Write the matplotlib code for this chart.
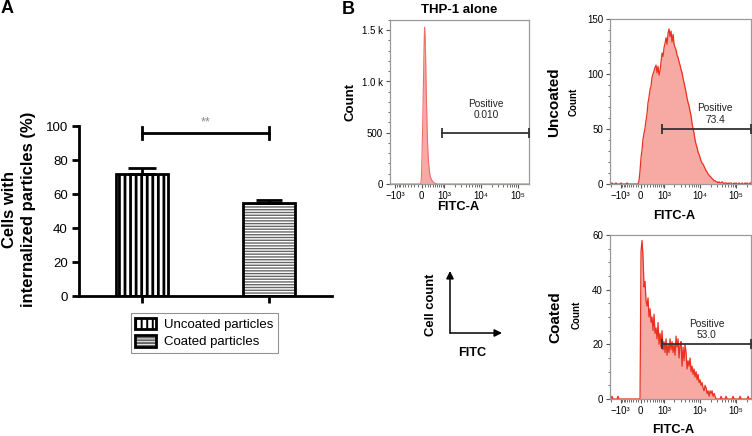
import numpy as np
import matplotlib
matplotlib.use('Agg')
import matplotlib.pyplot as plt
from matplotlib.patches import Patch, FancyArrowPatch
from matplotlib.ticker import FixedLocator, MultipleLocator

plt.rcParams['font.family'] = ['Liberation Sans', 'DejaVu Sans']
plt.rcParams['hatch.linewidth'] = 1.4

# ---------------- data ----------------
bar_categories = ['Uncoated particles', 'Coated particles']
bar_means = [72.0, 54.5]
bar_errors = [3.5, 1.7]
sig_label = '**'
sig_level = 96

fitc_tick_values = [-1000, 0, 1000, 10000, 100000]
fitc_tick_labels = ['\u221210\u00b3', '0', '10\u00b3', '10\u2074', '10\u2075']

# histograms: counts on regular grids of logicle display units (decades)
thp1_units_start = -0.032
thp1_units_step = 0.01337
thp1_counts = [0, 20, 100, 300, 520, 780, 1060, 1350, 1530, 1450, 1250, 1000, 770,
               560, 400, 290, 210, 155, 115, 85, 65, 52, 42, 34, 27, 21, 16, 12, 9,
               6, 4, 3, 2, 1, 0]

cells_units_start = -0.84
cells_units_step = 0.0274
uncoated_counts = [0, 0, 1, 0, 0, 0, 1, 0, 0, 0, 0, 1, 0, 0, 0, 0, 0, 1, 0, 0, 0, 0, 0, 0, 0, 0, 0, 0,
                   0, 3, 12, 24, 31, 41, 46, 51, 58, 64,
                   74, 79, 86, 89, 97, 100, 103, 106, 108, 101,
                   107, 99, 103, 111, 119, 116, 124, 128, 133, 127,
                   137, 141, 134, 139, 129, 136, 127, 124, 122, 117,
                   115, 111, 108, 104, 101, 96, 92, 88, 83, 78,
                   74, 71, 66, 62, 55, 50, 46, 40, 36, 33,
                   29, 27, 24, 21, 19, 18, 16, 14, 12, 11,
                   9, 8, 7, 6, 5, 4, 3, 3, 2, 2, 1,
                   2, 1, 1, 2, 1, 0, 1, 1, 0, 1, 0, 1, 1, 0, 0, 1, 0, 1, 0, 0,
                   1, 0, 0, 1, 0, 0, 1, 0, 1, 0, 0, 1, 1]
coated_counts = [0, 0, 1, 0, 0, 0, 0, 0, 1, 0, 0, 0, 0, 0, 0, 0, 0, 0, 0, 0, 0, 0, 0, 0, 0, 0, 0, 0, 0, 0,
                 0,
                 54, 58, 52, 41, 43, 36, 34, 37, 30, 33,
                 28, 30, 25, 31, 24, 26, 22, 28, 20, 24,
                 19, 25, 18, 21, 17, 22, 16, 20, 17, 22,
                 18, 21, 17, 20, 16, 23, 19, 22, 15, 20,
                 21, 12, 19, 14, 20, 17, 11, 14, 12, 15,
                 10, 12, 9, 11, 8, 10, 7, 9, 6, 7,
                 5, 6, 4, 3, 5, 4, 2, 3, 1, 3,
                 2, 3, 1, 2, 1,
                 0, 0, 0, 0, 0, 1, 0, 0, 0, 0, 1, 0, 0, 0, 0, 0, 0, 1, 0, 0,
                 0, 0, 0, 0, 1, 0, 0, 0, 0, 0, 0, 0, 1, 0, 0, 0]

gate_start = 880
thp1_gate = ('Positive\n0.010', 500)
uncoated_gate = ('Positive\n73.4', 50)
coated_gate = ('Positive\n53.0', 20)

# ---------------- layout helpers ----------------
W, H = 752, 436
fig = plt.figure(figsize=(W / 100, H / 100), dpi=100)


def rect(l, t, r, b):
    return [l / W, 1 - b / H, (r - l) / W, (b - t) / H]


def ftext(x, y, s, **kw):
    fig.text(x / W, 1 - y / H, s, ha='center', va='center', **kw)


# ---------------- panel A ----------------
axA = fig.add_axes(rect(79, 126, 332, 296))
xpos = np.arange(len(bar_categories))
bw = 0.41
hatches = ['|||', '------']
hcolors = ['black', '#666666']
hlw = [2.0, 1.0]
for i in range(len(bar_categories)):
    with plt.rc_context({'hatch.linewidth': hlw[i]}):
        axA.bar(xpos[i], bar_means[i], width=bw, facecolor='white', edgecolor=hcolors[i],
                hatch=hatches[i], linewidth=0, zorder=2)
    axA.bar(xpos[i], bar_means[i], width=bw, fill=False, edgecolor='black',
            linewidth=2, zorder=3)
caps = [10.4, 9.2]
for i in range(len(bar_categories)):
    axA.errorbar(xpos[i], bar_means[i], yerr=[[0], [bar_errors[i]]], fmt='none',
                 ecolor='black', elinewidth=2, capsize=caps[i], capthick=2, zorder=4)
axA.plot([xpos[0], xpos[1]], [sig_level, sig_level], color='black', lw=2,
         clip_on=False)
for xv in (xpos[0], xpos[1]):
    axA.plot([xv, xv], [sig_level - 3.5, sig_level + 3.5], color='black', lw=2,
             clip_on=False)
axA.text((xpos[0] + xpos[1]) / 2, sig_level + 2.5, sig_label, ha='center',
         va='bottom', fontsize=9, color='#888888')
axA.set_xlim(-0.5, 1.5)
axA.set_ylim(0, 100)
axA.set_yticks([0, 20, 40, 60, 80, 100])
axA.set_xticks(xpos)
axA.set_xticklabels([])
for s in ('top', 'right'):
    axA.spines[s].set_visible(False)
for s in ('left', 'bottom'):
    axA.spines[s].set_linewidth(2)
axA.tick_params(axis='both', direction='out', width=2, length=5, labelsize=9.5, pad=3)
with plt.rc_context({'hatch.linewidth': 1.6}):
    h1 = Patch(facecolor='white', edgecolor='black', hatch='|||', lw=0)
with plt.rc_context({'hatch.linewidth': 1.0}):
    h2 = Patch(facecolor='white', edgecolor='#666666', hatch='------', lw=0)
handles = [
    (h1, Patch(fill=False, edgecolor='black', lw=2)),
    (h2, Patch(fill=False, edgecolor='black', lw=2)),
]
leg = axA.legend(handles, bar_categories, loc='upper center',
                 bbox_to_anchor=(0.496, -0.1), fontsize=9.5, frameon=True,
                 fancybox=False, edgecolor='#777777', handlelength=1.6,
                 handleheight=1.0, labelspacing=0.3, borderpad=0.35,
                 handletextpad=0.6, borderaxespad=0)
leg.get_frame().set_linewidth(0.8)
ftext(19, 209, 'Cells with\ninternalized particles (%)', rotation=90,
      fontsize=12, fontweight='bold', linespacing=1.3, multialignment='center')
ftext(7.5, 8.5, 'A', fontsize=13, fontweight='bold')
ftext(348.5, 9, 'B', fontsize=13, fontweight='bold')


# ---------------- panel B ----------------
def make_scale(a, b):
    ln10 = np.log(10)

    def fwd(x):
        x = np.asarray(x, dtype=float)
        return np.where(x >= 0, np.arcsinh(x / a), np.arcsinh(x / b)) / ln10

    def inv(u):
        u = np.asarray(u, dtype=float)
        return np.where(u >= 0, a * np.sinh(u * ln10), b * np.sinh(u * ln10))
    return fwd, inv


minor_x = ([-v for v in range(100, 1000, 100)] + [-2000] + list(range(100, 1000, 100))
           + list(range(2000, 10000, 1000)) + list(range(20000, 100000, 10000))
           + [200000])


def flow_panel(box, a, b, ulim, units_start, units_step, counts, ylim, ymaj,
               ylabels, ymin_step, gate, gate_frac, fill, line, lw):
    ax = fig.add_axes(rect(*box))
    fwd, inv = make_scale(a, b)
    ax.set_xscale('function', functions=(fwd, inv))
    xmin, xmax = float(inv(ulim[0])), float(inv(ulim[1]))
    units = units_start + units_step * np.arange(len(counts))
    xs = inv(units)
    cs = np.asarray(counts, dtype=float)
    xs = np.concatenate([[xmin], xs, [xmax]])
    cs = np.concatenate([[0], cs, [0]])
    ax.fill_between(xs, 0, cs, color=fill, lw=0, zorder=1)
    ax.plot(xs, cs, color=line, lw=lw, zorder=2, clip_on=True)
    ax.set_xlim(xmin, xmax)
    ax.set_ylim(*ylim)
    ax.xaxis.set_major_locator(FixedLocator(fitc_tick_values))
    ax.set_xticklabels(fitc_tick_labels)
    ax.xaxis.set_minor_locator(FixedLocator([v for v in minor_x if xmin < v < xmax]))
    ax.set_yticks(ymaj)
    ax.set_yticklabels(ylabels)
    ax.yaxis.set_minor_locator(MultipleLocator(ymin_step))
    for s in ax.spines.values():
        s.set_color('#9a9a9a')
        s.set_linewidth(0.9)
    ax.tick_params(which='major', direction='out', length=3, width=0.8,
                   color='#555555', labelsize=7, pad=2)
    ax.tick_params(which='minor', direction='out', length=1.8, width=0.6,
                   color='#555555')
    label, gy = gate
    ax.plot([gate_start, xmax], [gy, gy], color='#333333', lw=1.3, marker='|',
            ms=7, mew=1.3, clip_on=False, zorder=3)
    ax.text(gate_frac[0], gate_frac[1], label, transform=ax.transAxes,
            ha='center', va='bottom', fontsize=7.3, linespacing=1.15, color='#222222')
    return ax


flow_panel((390, 20, 529, 184), 534, 405, (-0.85, 2.87), thp1_units_start,
           thp1_units_step, thp1_counts, (0, 1600), [0, 500, 1000, 1500],
           ['0', '500', '1.0 k', '1.5 k'], 100, thp1_gate, (0.689, 0.39),
           '#f7a9a6', '#ef6f68', 0.8)
flow_panel((610, 19, 751, 184), 485, 615, (-0.84, 3.02), cells_units_start,
           cells_units_step, uncoated_counts, (0, 150), [0, 50, 100, 150],
           ['0', '50', '100', '150'], 10, uncoated_gate, (0.745, 0.36),
           '#f7a9a4', '#e8321f', 0.9)
flow_panel((610, 235, 751, 399), 485, 615, (-0.84, 3.02), cells_units_start,
           cells_units_step, coated_counts, (0, 60), [0, 20, 40, 60],
           ['0', '20', '40', '60'], 5, coated_gate, (0.686, 0.357),
           '#f7a9a4', '#e8321f', 0.9)

ftext(459, 10, 'THP-1 alone', fontsize=9.5, fontweight='bold')
ftext(350, 102, 'Count', rotation=90, fontsize=9.5, fontweight='bold')
ftext(458, 207, 'FITC-A', fontsize=9.3, fontweight='bold')
ftext(554, 102, 'Uncoated', rotation=90, fontsize=11, fontweight='bold')
ftext(574, 102, 'Count', rotation=90, fontsize=7, fontweight='bold')
ftext(674, 216, 'FITC-A', fontsize=9.3, fontweight='bold')
ftext(555, 317, 'Coated', rotation=90, fontsize=11, fontweight='bold')
ftext(577, 315, 'Count', rotation=90, fontsize=7, fontweight='bold')
ftext(673, 430, 'FITC-A', fontsize=9.3, fontweight='bold')

# axis legend sketch
ox, oy = 450, 333
for end in ((450, 271), (502, 333)):
    fig.add_artist(FancyArrowPatch((ox / W, 1 - oy / H), (end[0] / W, 1 - end[1] / H),
                                   transform=fig.transFigure, arrowstyle='-|>',
                                   mutation_scale=11, lw=1.1, color='black',
                                   shrinkA=0, shrinkB=0))
ftext(431, 305, 'Cell count', rotation=90, fontsize=9.4, fontweight='bold')
ftext(472, 353, 'FITC', fontsize=9.2, fontweight='bold')

fig.savefig('out.png', dpi=100)
